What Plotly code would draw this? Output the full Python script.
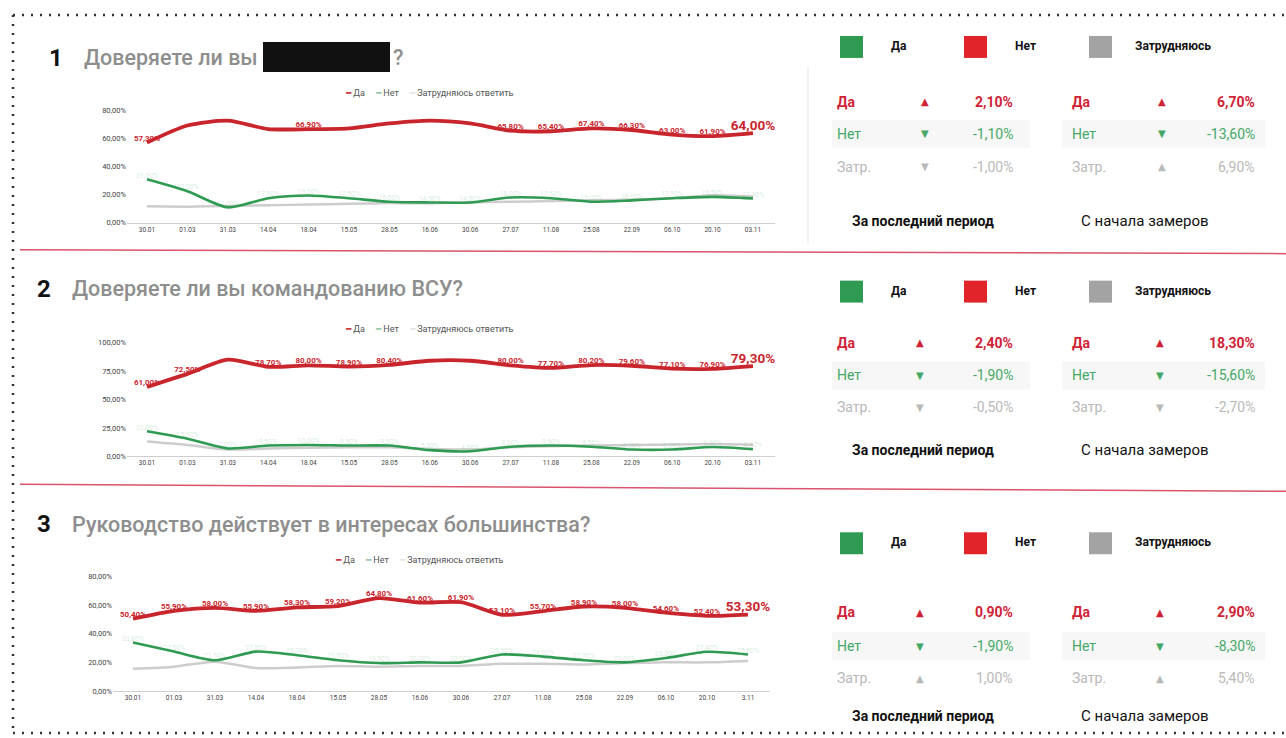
import plotly.graph_objects as go

W, H = 1286, 738          # reference coordinate system
FIG_H = 746               # figure height (photographed page is scaled to 738)
SHIFT = 3                 # small vertical correction, px

# ---------------- data ----------------
dates = ["30.01", "01.03", "31.03", "14.04", "18.04", "15.05", "28.05", "16.06",
         "30.06", "27.07", "11.08", "25.08", "22.09", "06.10", "20.10", "03.11"]
dates_p3 = ["30.01", "01.03", "31.03", "14.04", "18.04", "15.05", "28.05", "16.06",
            "30.06", "27.07", "11.08", "25.08", "22.09", "06.10", "20.10", "3.11"]

titles = ["Доверяете ли вы", "Доверяете ли вы командованию ВСУ?",
          "Руководство действует в интересах большинства?"]
legend_names = ["Да", "Нет", "Затрудняюсь"]
row_names = ["Да", "Нет", "Затр."]
footer_names = ["За последний период", "С начала замеров"]
chart_legend = ["Да", "Нет", "Затрудняюсь ответить"]

da_1 = [57.3, 69.5, 73.0, 67.0, 66.9, 67.5, 71.0, 73.0, 71.0, 65.8, 65.4, 67.4, 66.3, 63.0, 61.9, 64.0]
net_1 = [31.0, 22.5, 11.0, 17.5, 19.5, 17.5, 15.0, 14.5, 14.5, 18.0, 17.5, 15.0, 16.0, 17.5, 18.5, 17.4]
zatr_1 = [11.7, 11.5, 12.0, 12.5, 13.0, 13.5, 14.0, 14.0, 14.5, 15.0, 15.5, 16.0, 16.5, 17.5, 19.6, 18.6]
shown_1 = [0, 4, 9, 10, 11, 12, 13, 14, 15]

da_2 = [61.0, 72.5, 85.0, 78.7, 80.0, 78.9, 80.4, 84.0, 84.0, 80.0, 77.7, 80.2, 79.6, 77.1, 76.9, 79.3]
net_2 = [22.0, 15.5, 7.0, 9.5, 10.0, 9.5, 9.5, 5.5, 4.5, 8.5, 9.5, 8.5, 6.0, 6.0, 8.3, 6.4]
zatr_2 = [13.0, 10.0, 6.0, 7.0, 7.5, 8.0, 8.0, 6.5, 6.0, 8.0, 9.0, 9.5, 10.0, 10.5, 10.8, 10.3]
shown_2 = [0, 1, 3, 4, 5, 6, 9, 10, 11, 12, 13, 14, 15]

da_3 = [50.4, 55.9, 58.0, 55.9, 58.3, 59.2, 64.8, 61.6, 61.9, 53.1, 55.7, 58.9, 58.0, 54.6, 52.4, 53.3]
net_3 = [33.8, 27.5, 21.5, 27.5, 25.0, 21.5, 19.5, 20.0, 20.0, 25.5, 24.0, 21.5, 20.0, 23.0, 27.4, 25.5]
zatr_3 = [15.6, 17.0, 20.5, 16.0, 16.5, 17.5, 17.0, 17.5, 17.5, 19.0, 19.0, 18.5, 19.5, 20.0, 20.0, 21.0]
shown_3 = list(range(16))

y_ticks_1 = [0, 20, 40, 60, 80]
y_ticks_2 = [0, 25, 50, 75, 100]
y_ticks_3 = [0, 20, 40, 60, 80]

# ---------------- styles ----------------
RED = "#c9252d"
GREEN = "#2f9a52"
GRAY = "#cdcdcd"
T_RED = "#cf2336"
T_GREEN = "#45a866"
T_GRAY = "#b9b9b9"
FONT = "Roboto"


def px(x):
    return x / W


def py(y):
    return 1 - (y - SHIFT) / H


def fmt(v):
    return f"{v:.2f}".replace(".", ",") + "%"


panels = [
    dict(x=dates, da=da_1, net=net_1, zatr=zatr_1, shown=shown_1, yt=y_ticks_1,
         xdom=(127, 775), xr=(-0.495, 15.545), ydom=(222, 110), yr=(0, 80),
         title_y=57, num_x=47, title_x=82, leg_y=92, leg_x=343,
         sq_y=46, rows=(101, 133, 166), foot=220, tri=(925, 1162)),
    dict(x=dates, da=da_2, net=net_2, zatr=zatr_2, shown=shown_2, yt=y_ticks_2,
         xdom=(127, 775), xr=(-0.495, 15.545), ydom=(456, 342), yr=(0, 100),
         title_y=288, num_x=35, title_x=70, leg_y=328, leg_x=343,
         sq_y=291, rows=(342, 375, 407), foot=450, tri=(920, 1160)),
    dict(x=dates_p3, da=da_3, net=net_3, zatr=zatr_3, shown=shown_3, yt=y_ticks_3,
         xdom=(113, 770), xr=(-0.488, 15.537), ydom=(691, 576), yr=(0, 80),
         title_y=524, num_x=35, title_x=70, leg_y=560, leg_x=333,
         sq_y=543, rows=(612, 646, 678), foot=716, tri=(920, 1160)),
]

fig = go.Figure()
annotations = []
shapes = []
layout_axes = {}

for i, p in enumerate(panels):
    k = "" if i == 0 else str(i + 1)
    xa, ya = "x" + k, "y" + k
    n = len(p["x"])

    fig.add_trace(go.Scatter(x=p["x"], y=p["zatr"], xaxis=xa, yaxis=ya, mode="lines",
                             line=dict(color=GRAY, width=2.5, shape="spline", smoothing=0.7),
                             showlegend=False, hoverinfo="skip"))
    fig.add_trace(go.Scatter(x=p["x"], y=p["net"], xaxis=xa, yaxis=ya, mode="lines+text",
                             text=[fmt(v) for v in p["net"]], textposition="top center",
                             textfont=dict(family=FONT, size=7, color="rgba(120,185,140,0.30)"),
                             line=dict(color=GREEN, width=2.6, shape="spline", smoothing=0.7),
                             cliponaxis=False, showlegend=False, hoverinfo="skip"))
    txt = [fmt(v) if j in p["shown"] else "" for j, v in enumerate(p["da"])]
    sizes = [8] * (n - 1) + [13.5]
    fig.add_trace(go.Scatter(x=p["x"], y=p["da"], xaxis=xa, yaxis=ya, mode="lines+text",
                             text=txt, textposition="top center",
                             textfont=dict(family=FONT, size=sizes, color=RED, weight="bold"),
                             line=dict(color=RED, width=3.8, shape="spline", smoothing=0.7),
                             cliponaxis=False, showlegend=False, hoverinfo="skip"))

    layout_axes["xaxis" + k] = dict(domain=[px(p["xdom"][0]), px(p["xdom"][1])], anchor=ya,
                                    type="category", range=list(p["xr"]), showgrid=False,
                                    showline=True, linecolor="#d0d0d0", linewidth=1,
                                    ticks="", tickfont=dict(family=FONT, size=6.5, color="#444"),
                                    zeroline=False, fixedrange=True)
    layout_axes["yaxis" + k] = dict(domain=[py(p["ydom"][0]), py(p["ydom"][1])], anchor=xa,
                                    range=list(p["yr"]), tickvals=p["yt"],
                                    ticktext=[fmt(v) for v in p["yt"]],
                                    showgrid=False, zeroline=False,
                                    showline=False, tickfont=dict(family=FONT, size=7.5, color="#444"),
                                    fixedrange=True)

    annotations.append(dict(
        x=px(p["leg_x"]), y=py(p["leg_y"]), xref="paper", yref="paper",
        xanchor="left", yanchor="middle", showarrow=False,
        font=dict(family=FONT, size=9, color="#555"),
        text=(f"<span style='color:{RED}'>━</span> {chart_legend[0]}     "
              f"<span style='color:#8fc4a0'>━</span> {chart_legend[1]}     "
              f"<span style='color:#e6e6e6'>━</span> {chart_legend[2]}")))

    annotations.append(dict(x=px(p["num_x"]), y=py(p["title_y"]), xref="paper", yref="paper",
                            xanchor="left", yanchor="middle", showarrow=False,
                            text=f"<b>{i + 1}</b>", font=dict(family=FONT, size=24, color="#111")))
    annotations.append(dict(x=px(p["title_x"]), y=py(p["title_y"]), xref="paper", yref="paper",
                            xanchor="left", yanchor="middle", showarrow=False,
                            text=titles[i], font=dict(family=FONT, size=21.5, color="#8e8e8e", weight=500)))

    sq_cols = [GREEN, "#e0242a", "#a3a3a3"]
    sq_x = [840, 964, 1089]
    lab_x = [889, 1013, 1133]
    for c, sx, lx, nm in zip(sq_cols, sq_x, lab_x, legend_names):
        shapes.append(dict(type="rect", xref="paper", yref="paper",
                           x0=px(sx), x1=px(sx + 23), y0=py(p["sq_y"] + 11), y1=py(p["sq_y"] - 11),
                           fillcolor=c, line=dict(width=0)))
        annotations.append(dict(x=px(lx), y=py(p["sq_y"] - 1), xref="paper", yref="paper",
                                xanchor="left", yanchor="middle", showarrow=False,
                                text=f"<b>{nm}</b>", font=dict(family=FONT, size=12, color="#111")))

    series = [p["da"], p["net"], p["zatr"]]
    cols = [T_RED, T_GREEN, T_GRAY]
    for x0, x1 in [(832, 1030), (1062, 1265)]:
        shapes.append(dict(type="rect", xref="paper", yref="paper",
                           x0=px(x0), x1=px(x1), y0=py(p["rows"][1] + 14), y1=py(p["rows"][1] - 14),
                           fillcolor="#f7f7f7", line=dict(width=0), layer="below"))
    for r, (s, c, nm) in enumerate(zip(series, cols, row_names)):
        yy = py(p["rows"][r])
        d_last = s[-1] - s[-2]
        d_all = s[-1] - s[0]
        for col_i, d in enumerate([d_last, d_all]):
            lx = 835 if col_i == 0 else 1070
            rx = 1015 if col_i == 0 else 1257
            tx = p["tri"][col_i]
            bold = r == 0
            lab = f"<b>{nm}</b>" if bold else nm
            val = f"{d:.2f}".replace(".", ",") + "%"
            val = f"<b>{val}</b>" if bold else val
            tri = "▲" if d > 0 else "▼"
            annotations.append(dict(x=px(lx), y=yy, xref="paper", yref="paper", xanchor="left",
                                    yanchor="middle", showarrow=False, text=lab,
                                    font=dict(family=FONT, size=14, color=c)))
            annotations.append(dict(x=px(tx), y=yy, xref="paper", yref="paper", xanchor="center",
                                    yanchor="middle", showarrow=False, text=tri,
                                    font=dict(family="DejaVu Sans", size=10, color=c)))
            annotations.append(dict(x=px(rx), y=yy, xref="paper", yref="paper", xanchor="right",
                                    yanchor="middle", showarrow=False, text=val,
                                    font=dict(family=FONT, size=14, color=c)))
    annotations.append(dict(x=px(923), y=py(p["foot"]), xref="paper", yref="paper",
                            xanchor="center", yanchor="middle", showarrow=False,
                            text=f"<b>{footer_names[0]}</b>",
                            font=dict(family=FONT, size=14, color="#111")))
    annotations.append(dict(x=px(1145), y=py(p["foot"]), xref="paper", yref="paper",
                            xanchor="center", yanchor="middle", showarrow=False,
                            text=footer_names[1], font=dict(family=FONT, size=15, color="#111")))

shapes.append(dict(type="rect", xref="paper", yref="paper", x0=px(263), x1=px(390),
                   y0=py(71), y1=py(41), fillcolor="#111", line=dict(width=0)))
annotations.append(dict(x=px(391), y=py(57), xref="paper", yref="paper", xanchor="left",
                        yanchor="middle", showarrow=False, text="?",
                        font=dict(family=FONT, size=21.5, color="#8e8e8e", weight=500)))

shapes.append(dict(type="line", xref="paper", yref="paper", x0=px(20), x1=1, y0=py(249), y1=py(253),
                   line=dict(color="#d9546c", width=1.5)))
shapes.append(dict(type="line", xref="paper", yref="paper", x0=px(20), x1=1, y0=py(484), y1=py(491),
                   line=dict(color="#d9546c", width=1.5)))
shapes.append(dict(type="line", xref="paper", yref="paper", x0=px(808), x1=px(808), y0=py(66), y1=py(242),
                   line=dict(color="#e2e2e2", width=1)))

dot = dict(color="#333", width=2.5, dash="2px,7px")
shapes.append(dict(type="line", xref="paper", yref="paper", x0=px(13), x1=px(1284), y0=py(14), y1=py(14), line=dot))
shapes.append(dict(type="line", xref="paper", yref="paper", x0=px(13), x1=px(13), y0=py(14), y1=py(733), line=dot))
shapes.append(dict(type="line", xref="paper", yref="paper", x0=px(13), x1=px(1284), y0=py(733), y1=py(733), line=dot))

fig.update_layout(width=W, height=FIG_H, margin=dict(l=0, r=0, t=0, b=0),
                  paper_bgcolor="white", plot_bgcolor="white",
                  annotations=annotations, shapes=shapes, showlegend=False,
                  font=dict(family=FONT), **layout_axes)

fig.write_html("out.html", config={"displayModeBar": False},
               post_script="document.body.style.margin='0';document.body.style.overflow='hidden';")
